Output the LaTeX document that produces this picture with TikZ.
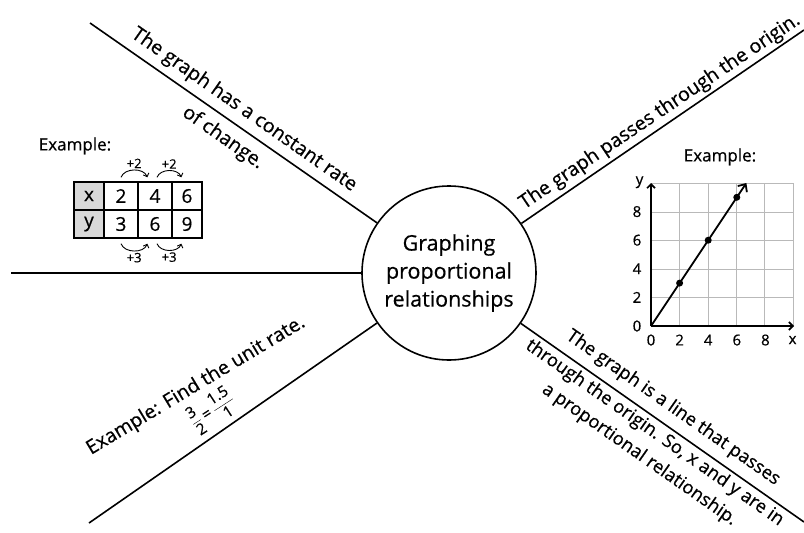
\documentclass[tikz,border=0pt]{standalone}
\usepackage{fontspec}
\setmainfont{Open Sans}[FakeBold=0.6]
\usetikzlibrary{arrows.meta, positioning}

\tikzset{
  hub/.style={circle, draw, line width=1.6pt, minimum size=174pt, inner sep=0pt,
    align=center, font=\fontsize{21.5}{28}\selectfont},
  branch/.style={line width=1.6pt},
  note/.style={font=\fontsize{19.5}{27.5}\selectfont, inner sep=0pt, align=center},
  longnote/.style={note, font=\fontsize{18.3}{26.5}\selectfont},
  cell/.style={draw, line width=1.4pt, minimum height=28pt, inner sep=0pt,
    font=\fontsize{19}{20}\selectfont},
  small/.style={font=\fontsize{13}{14}\selectfont, inner sep=1.5pt},
  tick/.style={font=\fontsize{15}{17}\selectfont, inner sep=0pt},
  bump/.style={-{Straight Barb[length=3pt,width=6pt]}, line width=0.9pt},
  axis/.style={line width=1.6pt, -{Straight Barb[length=4pt,width=8pt]}},
  ray/.style={line width=1.8pt, -{Straight Barb[length=6pt,width=11pt]}},
  dot/.style={circle, fill, minimum size=7pt, inner sep=0pt},
}

\begin{document}
\begin{tikzpicture}[x=1pt, y=1pt]
  \useasboundingbox (0,-533) rectangle (804,0);
  % central topic
  \node[hub] (hub) at (449,-273) {Graphing\\proportional\\relationships};
  % branch ends
  \coordinate (tl) at (90,-23);
  \coordinate (ml) at (11,-273);
  \coordinate (bl) at (89,-523);
  \coordinate (tr) at (804,-30);
  \coordinate (br) at (804,-522);
  \foreach \e in {tl, ml, bl, tr, br}
    \draw[branch] (hub) -- (\e);

  % texts along the branches
  \node[note, rotate=-35] (rate) at (244,-110) {The graph has a constant rate};
  \node[note, rotate=-35] (change) at (223,-138) {of change.};
  \node[note, rotate=34] (origin) at (660,-112) {The graph passes through the origin.};
  \node[note, rotate=31] (unit) at (196,-386) {Example: Find the unit rate.};
  \node[note, rotate=33, font=\fontsize{15.5}{16}\selectfont] (frac) at (212,-410)
    {$\displaystyle\frac{\mbox{3}}{\mbox{2}}\mbox{\,=\,}\frac{\mbox{1.5}}{\mbox{1}}$};
  \node[longnote, rotate=-35] (line) at (673,-408) {The graph is a line that passes};
  \node[longnote, rotate=-35] (so) at (647,-444)
    {through the origin. So, x and y are in\\a proportional relationship.};

  % table example
  \node[note, font=\fontsize{17}{18}\selectfont] (ex1) at (75,-146) {Example:};
  \fill[gray!30] (74,-182) rectangle (104,-238);
  \foreach \c/\x/\w/\up/\dn in {0/89/30/x/y, 1/121/34/2/3, 2/155/34/4/6, 3/187/30/6/9} {
    \node[cell, minimum width=\w] (t\c) at (\x,-196) {\up};
    \node[cell, minimum width=\w] (b\c) at (\x,-224) {\dn};
  }
  \draw[bump] ([yshift=4]t1.north) to[bend left=70]
    node[small, above] (p1) {+2} ([shift={(10,4)}]t2.north west);
  \draw[bump] ([shift={(2,4)}]t2.north) to[bend left=70]
    node[small, above] (p2) {+2} ([shift={(10,4)}]t3.north west);
  \draw[bump] ([yshift=-5]b1.south) to[bend right=70]
    node[small, below] (m1) {+3} ([shift={(10,-5)}]b2.south west);
  \draw[bump] ([shift={(2,-5)}]b2.south) to[bend right=70]
    node[small, below] (m2) {+3} ([shift={(10,-5)}]b3.south west);

  % graph example
  \node[note, font=\fontsize{17}{18}\selectfont] (ex2) at (720,-157) {Example:};
  \begin{scope}[shift={(651,-326)}, x=14.3pt, y=14.3pt]
    \draw[gray!55, line width=0.8pt] (0,0) grid (10,10);
    \coordinate (o) at (0,0);
    \coordinate (xend) at (10,0);
    \coordinate (yend) at (0,10);
    \draw[axis] (o) -- (xend);
    \draw[axis] (o) -- (yend);
    \foreach \v in {0,2,...,8} {
      \node[tick] (xt\v) at (\v,-0.98) {\v};
      \node[tick] (yt\v) at (-0.98,\v) {\v};
    }
    \node[tick] (xl) at (9.9,-0.98) {x};
    \node[tick] (yl) at (-0.8,10.05) {y};
    \coordinate (tip) at (6.67,10);
    \draw[ray] (o) -- (tip);
    \foreach \i/\px/\py in {1/2/3, 2/4/6, 3/6/9}
      \node[dot] (d\i) at (\px,\py) {};
  \end{scope}
\end{tikzpicture}
\end{document}
